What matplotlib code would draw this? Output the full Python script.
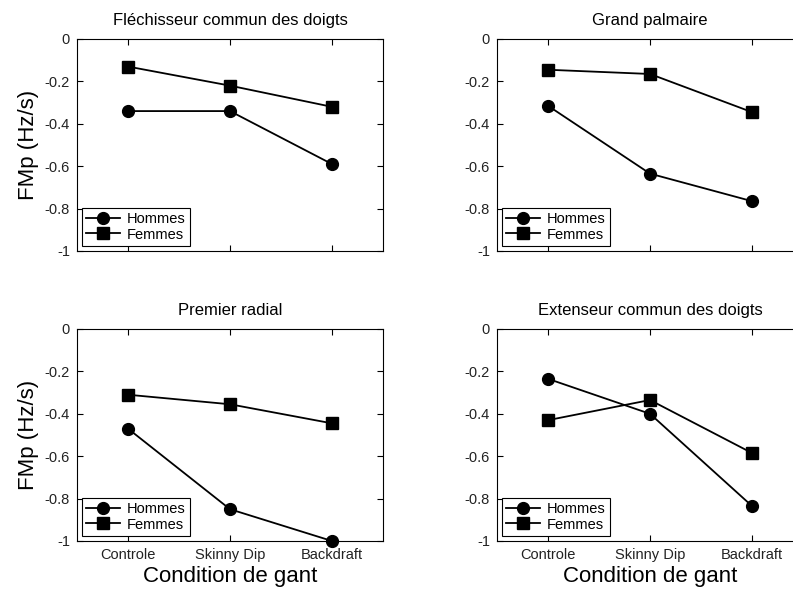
import matplotlib
matplotlib.use("Agg")
import matplotlib.pyplot as plt
from matplotlib.ticker import FuncFormatter

plt.rcParams['font.family'] = ['Liberation Sans', 'DejaVu Sans']

conditions = ["Controle", "Skinny Dip", "Backdraft"]
titles = ["Fléchisseur commun des doigts", "Grand palmaire",
          "Premier radial", "Extenseur commun des doigts"]
hommes_flech = [-0.34, -0.34, -0.59]
femmes_flech = [-0.13, -0.22, -0.32]
hommes_grand = [-0.315, -0.635, -0.765]
femmes_grand = [-0.145, -0.165, -0.345]
hommes_prem = [-0.47, -0.85, -1.0]
femmes_prem = [-0.31, -0.355, -0.445]
hommes_ext = [-0.235, -0.40, -0.835]
femmes_ext = [-0.43, -0.335, -0.585]

panels = [(hommes_flech, femmes_flech), (hommes_grand, femmes_grand),
          (hommes_prem, femmes_prem), (hommes_ext, femmes_ext)]

W, H = 793, 592
fig = plt.figure(figsize=(W / 100, H / 100), dpi=100)

# axes boxes in pixels: left, top, right, bottom
boxes = [(77, 39, 383, 251), (497, 39, 803, 251),
         (77, 329, 383, 541), (497, 329, 803, 541)]

fmt = FuncFormatter(lambda v, p: ("%g" % v).replace("\u2212", "-") if abs(v) > 1e-9 else "0")

x = list(range(1, len(conditions) + 1))
for i, ((hom, fem), title, (l, t, r, b)) in enumerate(zip(panels, titles, boxes)):
    ax = fig.add_axes([l / W, 1 - b / H, (r - l) / W, (b - t) / H])
    ax.plot(x, hom, color="black", lw=1.3, marker="o", markersize=8.5, label="Hommes", clip_on=False)
    ax.plot(x, fem, color="black", lw=1.3, marker="s", markersize=8, label="Femmes", clip_on=False)
    ax.set_xlim(0.5, 3.5)
    ax.set_ylim(-1, 0)
    ax.set_yticks([-1, -0.8, -0.6, -0.4, -0.2, 0])
    ax.yaxis.set_major_formatter(fmt)
    ax.set_xticks(x)
    if i >= 2:
        ax.set_xticklabels(conditions)
        ax.set_xlabel("Condition de gant", fontsize=16, labelpad=3)
    else:
        ax.set_xticklabels([])
    if i % 2 == 0:
        ax.set_ylabel("FMp (Hz/s)", fontsize=16, labelpad=4)
    ax.tick_params(direction="in", top=True, right=True, length=4, width=0.8,
                   labelsize=10.5, colors="black", labelcolor="#222222", pad=5)
    ax.set_title(title, fontsize=12, pad=10)
    for s in ax.spines.values():
        s.set_linewidth(0.8)
    leg = ax.legend(loc="lower left", fontsize=10.5, frameon=True, fancybox=False,
                    edgecolor="black", borderpad=0.3, labelspacing=0.1,
                    handlelength=2.3, handletextpad=0.45, borderaxespad=0.35,
                    markerscale=1.0)
    leg.get_frame().set_linewidth(0.8)
    leg.get_frame().set_alpha(1)

fig.savefig("out.png", dpi=100)
